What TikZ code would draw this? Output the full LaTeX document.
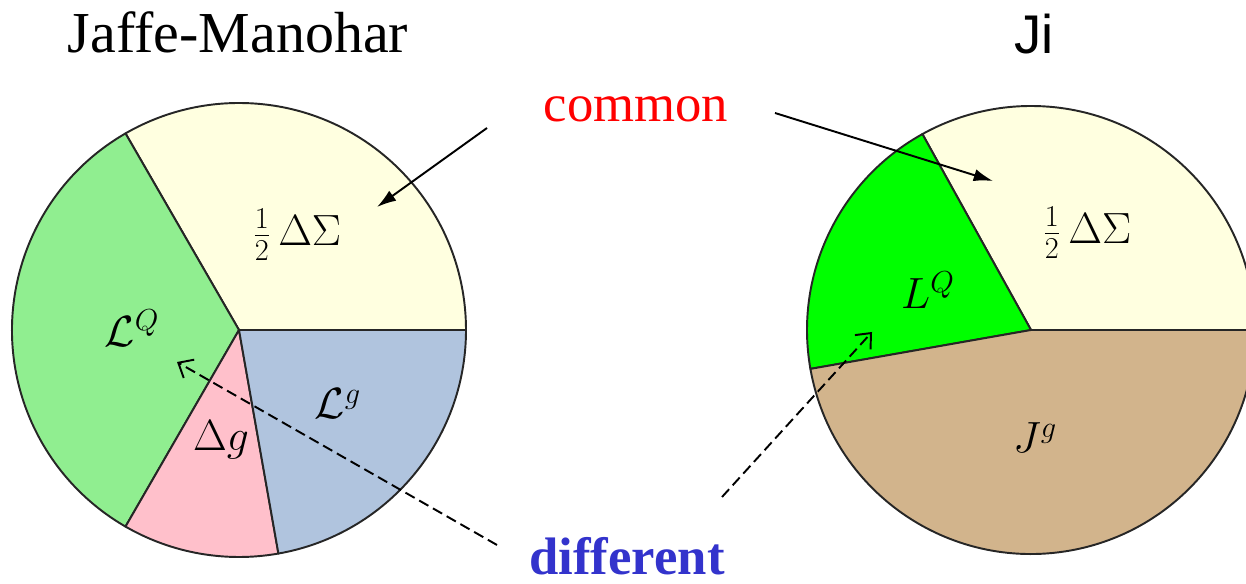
\documentclass[tikz,border=0pt]{standalone}
\usepackage{fontspec}
\setmainfont{Liberation Serif}
\newfontfamily\jmserif{Liberation Serif}
\newfontfamily\jisans{Liberation Sans}
\usepackage{xcolor}
\usepackage{tikz}
\usetikzlibrary{arrows.meta, positioning}
\definecolor{PieYellow}{RGB}{255, 255, 224}
\definecolor{PieGreen}{RGB}{144, 238, 144}
\definecolor{PiePink}{RGB}{255, 192, 203}
\definecolor{PieSteel}{RGB}{176, 196, 222}
\definecolor{PieLime}{RGB}{0, 255, 0}
\definecolor{PieTan}{RGB}{210, 180, 140}
\definecolor{DiffBlue}{RGB}{51, 51, 204}
\tikzset{
  slice/.style={draw=black!85, line width=1.1pt, line join=round},
  piemath/.style={font=\fontsize{26}{31}\selectfont},
  common arrow/.style={line width=1.1pt, -{Latex[length=11pt, width=7pt]}},
  diff arrow/.style={line width=1.1pt, dash pattern=on 6pt off 3pt,
                     -{Straight Barb[length=7pt, width=12pt]}}
}

\begin{document}
\begin{tikzpicture}[x=0.02cm, y=0.02cm]
    \clip (0,0) rectangle (1246,584);

    % Jaffe-Manohar
    \coordinate (jm) at (239,254);
    \draw[slice, fill=PieYellow] (jm) -- ++(0:227) arc[start angle=0, end angle=120, radius=227] -- cycle;
    \draw[slice, fill=PieGreen] (jm) -- ++(120:227) arc[start angle=120, end angle=240, radius=227] -- cycle;
    \draw[slice, fill=PiePink] (jm) -- ++(240:227) arc[start angle=240, end angle=280, radius=227] -- cycle;
    \draw[slice, fill=PieSteel] (jm) -- ++(280:227) arc[start angle=280, end angle=360, radius=227] -- cycle;
    \node[piemath] (jmSigma) at (297,349) {$\frac{1}{2}\,\Delta\Sigma$};
    \node[piemath] (jmLQ) at (132,256) {$\mathcal{L}^Q$};
    \node[piemath] (jmDg) at (221,144) {$\Delta g$};
    \node[piemath] (jmLg) at (338,180) {$\mathcal{L}^g$};
    \node[anchor=base, font=\jmserif\fontsize{33}{38}\selectfont] (jmTitle) at (238,531) {Jaffe-Manohar};

    % Ji
    \coordinate (ji) at (1031,254);
    \draw[slice, fill=PieYellow] (ji) -- ++(0:224) arc[start angle=0, end angle=119, radius=224] -- cycle;
    \draw[slice, fill=PieLime] (ji) -- ++(119:224) arc[start angle=119, end angle=190, radius=224] -- cycle;
    \draw[slice, fill=PieTan] (ji) -- ++(190:224) arc[start angle=190, end angle=360, radius=224] -- cycle;
    \node[piemath] (jiSigma) at (1087,351) {$\frac{1}{2}\,\Delta\Sigma$};
    \node[piemath] (jiLQ) at (928,294) {$L^Q$};
    \node[piemath] (jiJg) at (1035,146) {$J^g$};
    \node[anchor=base, font=\jisans\fontsize{31}{36}\selectfont] (jiTitle) at (1034,530) {Ji};

    % labels and arrows
    \node[anchor=base, text=red, font=\fontsize{30}{36}\selectfont] (common) at (636,462) {common};
    \node[anchor=base, text=DiffBlue, font=\bfseries\fontsize{30}{36}\selectfont] (different) at (627,9) {different};
    \coordinate (commonL) at (487,456);
    \coordinate (commonR) at (775,471);
    \coordinate (jmSigmaTip) at (377,377);
    \coordinate (jiSigmaTip) at (993,403);
    \coordinate (diffL) at (497,39);
    \coordinate (diffR) at (722,87);
    \coordinate (jmLQTip) at (177,222);
    \coordinate (jiLQTip) at (872,252);
    \draw[common arrow] (commonL) -- (jmSigmaTip);
    \draw[common arrow] (commonR) -- (jiSigmaTip);
    \draw[diff arrow] (diffL) -- (jmLQTip);
    \draw[diff arrow] (diffR) -- (jiLQTip);
\end{tikzpicture}
\end{document}
